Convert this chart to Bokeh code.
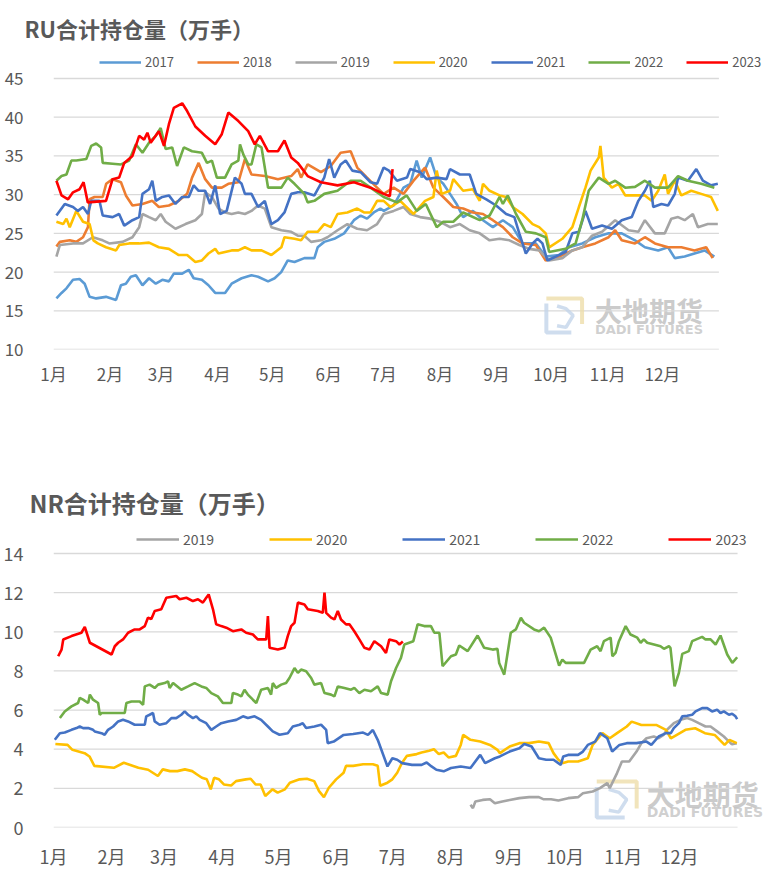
from bokeh.plotting import figure
from bokeh.models import (Range1d, FixedTicker, Legend, LegendItem, Label)
from bokeh.layouts import column
from bokeh.embed import file_html
from bokeh.resources import INLINE

# ---------------- data (day of year, 万手) ----------------
MONTH_STARTS = [0, 31, 59, 90, 120, 151, 181, 212, 243, 273, 304, 334]
MONTH_LABELS = ["1月", "2月", "3月", "4月", "5月", "6月", "7月", "8月", "9月", "10月", "11月", "12月"]

RU_2017 = [(1.6,16.6),(4.4,17.3),(7.1,17.9),(10.7,19.0),(14.3,19.1),(17.1,18.5),(19.8,16.8),(23.4,16.6),(28.8,16.8),(34.3,16.4),(37,18.3),(39.7,18.5),(42.4,19.4),(45.2,19.6),(48.8,18.3),(52.4,19.2),(56.1,18.5),(59.7,19.0),(63.3,18.8),(66,19.8),(70.6,19.8),(74.2,20.3),(76.9,19.2),(81.4,19.0),(85,18.3),(88.7,17.3),(94.1,17.3),(97.7,18.5),(103.2,19.2),(108.6,19.6),(112.2,19.4),(117.7,18.8),(121.3,19.2),(124.9,20.0),(128.5,21.5),(132.2,21.3),(137.6,21.8),(143.1,21.8),(144.9,23.2),(148.5,23.9),(154,24.3),(159.4,25.0),(164.8,26.7),(168.5,27.3),(172,26.9),(175.7,27.7),(179.3,28.2),(181.2,27.9),(186.6,28.6),(192,30.9),(195.7,31.4),(199.2,34.4),(202,32.2),(206.6,34.8),(210.2,32.2),(213.8,31.4),(217.5,30.1),(221.1,28.8),(224.7,27.1),(230.1,27.9),(235.6,26.7),(241,25.8),(246.5,26.7),(251.9,25.8),(257.3,23.7),(264.6,23.7),(270,22.0),(277.3,22.2),(282.8,23.2),(290,23.7),(297.2,24.5),(304.5,25.0),(311.7,25.0),(319,24.1),(324.4,23.2),(331.7,22.8),(337.1,23.2),(340.8,21.8),(346.2,22.0),(351.6,22.4),(357.1,22.8),(362.5,22.0)]
RU_2018 = [(1.6,23.3),(3.5,23.9),(8.9,24.1),(12.5,23.9),(16.2,24.5),(18.9,25.8),(19.8,29.4),(22.5,29.7),(27,29.7),(28.9,31.4),(32.4,32.0),(37,31.6),(39.7,29.9),(43.3,28.6),(48.8,28.8),(54.2,29.2),(57.8,28.4),(63.3,28.6),(68.7,29.2),(73.3,30.1),(76,32.2),(79.6,34.1),(83.2,32.0),(86.9,30.9),(92.3,30.9),(95.9,31.4),(101.4,31.6),(105,34.6),(108.6,32.6),(115.9,32.4),(123.1,32.0),(130.4,32.4),(134,33.3),(135.8,32.2),(139.4,33.9),(146.7,32.9),(152.1,33.7),(157.5,35.4),(163,35.6),(166.6,33.5),(172,32.2),(177.5,30.9),(181.1,30.1),(186.6,30.9),(192,30.1),(197.5,31.8),(203.8,33.5),(208.4,30.9),(213.8,29.7),(219.3,28.4),(224.7,28.2),(230.1,27.7),(235.6,27.5),(241,26.7),(246.5,25.8),(251.9,24.5),(257.3,23.7),(264.6,23.5),(270,21.5),(277.3,22.0),(284.6,22.8),(290,23.2),(297.2,23.7),(304.5,24.5),(308.1,25.4),(311.7,24.1),(319,23.7),(324.4,24.5),(329.9,23.7),(337.1,23.2),(344.4,23.2),(351.6,22.8),(358,23.2),(361.6,21.8)]
RU_2019 = [(1.6,22.0),(3.5,23.5),(10.7,23.7),(16.2,23.7),(21.6,24.5),(27,24.1),(30.6,23.7),(37.9,23.9),(43.3,24.5),(47,25.8),(48.8,27.5),(52.4,27.1),(56.1,26.7),(58.8,27.5),(61.5,26.5),(66.9,25.6),(72.4,26.2),(77.8,26.7),(81.4,27.5),(83.2,30.3),(86.9,29.7),(90.5,28.2),(94.1,27.7),(97.7,27.5),(101.4,27.7),(105,27.5),(108.6,27.9),(112.2,28.6),(115.9,28.2),(119.5,25.8),(125,25.4),(130.4,25.2),(134,24.7),(137.6,24.7),(141.3,23.9),(146.7,24.1),(150.3,24.5),(155.8,25.4),(161.2,26.2),(166.6,25.6),(172,25.4),(177.5,26.2),(181.1,27.5),(186.6,27.9),(192,28.4),(195.7,27.5),(201.1,27.1),(206.6,26.9),(212,26.5),(217.5,25.8),(222.9,26.2),(228.3,25.4),(233.8,25.0),(239.2,24.1),(244.7,24.3),(250.1,24.1),(255.5,23.5),(261,23.0),(266.4,22.8),(271.9,21.5),(279.1,21.8),(284.6,22.8),(290,23.2),(295.4,24.7),(300.9,25.2),(308.1,26.7),(315.4,25.4),(320.8,25.2),(324.4,26.7),(329.9,25.0),(335.3,25.0),(338.9,26.9),(342.6,27.1),(346.2,26.7),(350.7,27.5),(353.5,25.8),(358.9,26.2),(364.4,26.2)]
RU_2020 = [(1.6,26.5),(5.3,26.2),(7.1,26.9),(8.9,25.8),(12.5,27.9),(16.2,26.5),(19.8,26.2),(21.9,24.1),(24.3,23.7),(28.8,23.2),(34.3,22.8),(36.1,23.5),(41.5,23.7),(47,23.7),(52.4,23.8),(57.8,23.2),(63.3,23.0),(68.7,22.2),(73.3,22.2),(77.8,21.3),(81.4,21.5),(85,22.4),(88.7,23.0),(90.5,22.4),(94.1,22.6),(97.7,22.8),(101.4,22.8),(105,23.2),(108.6,22.8),(114.1,22.8),(119.5,22.2),(125,23.2),(126.7,24.5),(132.2,24.3),(135.8,24.1),(139.4,25.2),(144.9,25.2),(148.5,26.2),(152.1,25.8),(155.8,27.5),(161.2,27.7),(166.6,28.2),(170.3,27.7),(173.9,27.7),(177.5,29.2),(181.1,29.2),(184.8,28.4),(190.2,29.2),(197.5,27.5),(203.8,29.2),(208.4,29.7),(210.2,33.1),(212.9,30.1),(217.5,30.5),(219.3,32.0),(224.7,30.5),(230.1,30.7),(233.8,29.2),(235.6,31.4),(239.2,30.5),(244.7,29.9),(248.3,29.7),(251.9,28.4),(257.3,27.5),(262.8,26.2),(266.4,25.8),(270,25.0),(271.9,23.2),(279.1,24.3),(284.6,25.8),(288.2,28.4),(291.8,30.9),(294.6,33.1),(299.1,34.8),(300,36.3),(301.8,32.2),(306.3,30.9),(309.9,31.4),(313.6,29.9),(319,29.9),(324.4,29.9),(328.1,29.2),(331.7,30.5),(335.3,32.6),(337.1,30.1),(340.8,31.8),(344.4,29.9),(349.8,30.5),(355.3,30.1),(360.7,29.7),(364.4,27.9)]
RU_2021 = [(1.6,27.3),(6.2,28.8),(10.7,28.4),(13.4,27.9),(16.2,28.4),(18.9,27.5),(20.7,29.2),(25.2,29.2),(27,27.3),(32.4,27.1),(36,27.5),(38.8,26.0),(43.3,26.7),(47,27.1),(48.8,30.1),(52.4,30.7),(54.2,31.8),(56.1,29.2),(59.7,29.7),(63.3,29.9),(66.9,28.8),(70.6,29.7),(74.2,29.7),(76.9,31.2),(79.6,30.5),(83.2,30.5),(85.9,28.8),(88.7,31.2),(91.4,27.5),(95,27.9),(99.5,32.2),(103.2,31.4),(105,30.1),(108.6,30.1),(112.2,28.4),(115.9,29.2),(119.5,26.2),(123.1,26.7),(126.7,27.7),(130.4,30.1),(134,30.3),(137.6,30.3),(143.1,29.9),(148.5,32.2),(151.2,34.6),(154,32.2),(157.5,33.9),(160.3,34.4),(163.9,33.1),(168.5,32.9),(173.9,31.6),(177.5,31.4),(181.1,33.5),(184,33.1),(188.4,31.8),(193.9,32.2),(195.7,33.3),(201.1,32.9),(204.7,32.0),(210.2,32.2),(215.6,32.0),(217.5,33.3),(222.9,32.6),(228.3,32.6),(231.9,30.1),(237.4,29.4),(242.8,28.6),(248.3,27.5),(252.8,27.1),(255.5,25.0),(259.1,22.4),(262.8,23.7),(265.5,24.3),(268.2,23.7),(270.9,21.5),(275.5,22.0),(280.9,22.6),(284.6,25.0),(288.2,25.2),(291.8,27.9),(295.4,25.6),(300.9,26.0),(306.3,25.6),(311.7,26.7),(317.2,27.1),(320.8,29.2),(324.4,30.5),(327.1,31.8),(329,28.4),(333.5,28.8),(337.1,28.6),(340.8,30.1),(342.6,32.2),(348,31.8),(352.6,33.3),(356.2,31.8),(360.7,31.2),(364.4,31.4)]
RU_2022 = [(1.6,31.8),(4.4,32.4),(7.1,32.6),(9.8,34.4),(12.5,34.4),(18,34.6),(20.7,36.3),(23.4,36.6),(26.1,36.1),(27,34.1),(32.4,34.0),(37,33.9),(41.5,34.4),(45.2,36.5),(48.8,35.4),(52.4,36.7),(56.1,37.6),(58.8,38.6),(61.5,35.9),(65.1,36.1),(67.8,33.7),(71.5,36.1),(76,35.6),(81.4,35.4),(84.2,34.1),(86.9,34.4),(89.6,32.2),(94.1,32.2),(97.7,33.9),(101.4,34.4),(102.3,36.5),(104.1,35.2),(106.8,33.9),(108.6,33.9),(111.3,36.5),(114.1,36.1),(117.7,30.9),(125,30.9),(128.5,32.2),(132.2,31.4),(137.6,30.1),(139.4,29.0),(143.1,29.2),(148.5,30.1),(155.8,30.5),(163,31.8),(168.5,31.8),(173.9,30.9),(181.1,29.7),(188.4,29.0),(193.7,29.9),(199.2,27.9),(204.2,28.8),(210.2,25.8),(213.8,26.5),(219.3,26.5),(224.7,27.7),(228.3,27.3),(233.8,26.7),(239.2,27.3),(244.7,29.7),(246.5,28.8),(249.2,29.9),(253.7,27.5),(259.1,25.2),(264.6,25.0),(270,24.5),(271.9,22.6),(280.9,23.0),(286.4,23.7),(290,26.7),(293.6,30.5),(299.1,32.2),(304.5,31.4),(308.1,31.8),(313.6,30.9),(319,31.0),(324.4,31.8),(329.9,30.9),(337.1,30.9),(342.6,32.4),(348,31.8),(355.3,31.4),(362.5,30.9)]
RU_2023 = [(1.6,31.8),(4.4,29.9),(8,29.4),(10.7,30.3),(14.3,30.7),(16.5,31.6),(18.8,29.0),(28.8,29.2),(32.4,32.0),(36,32.2),(38.8,34.1),(43.3,35.0),(47,37.6),(49.7,37.1),(51.5,38.0),(53.3,36.7),(57.8,38.2),(60.6,36.3),(63.3,39.1),(66,41.2),(70.6,41.8),(73.3,40.8),(77.8,38.8),(83.2,37.6),(88.7,36.5),(92.3,37.8),(95.9,40.6),(101.4,39.5),(106.8,38.2),(110.4,36.5),(113.2,37.6),(117.7,35.6),(123.1,35.6),(126.7,37.0),(130.4,34.8),(134,34.1),(139.4,32.4),(146.7,31.6),(155.8,31.2),(164.8,31.6),(173.9,30.9),(181.1,30.1),(184.5,29.8),(186.0,33.3)]

NR_2019 = [(222.5,1.16),(223.8,0.99),(225.1,1.33),(229.0,1.41),(232.9,1.44),(235.5,1.24),(239.5,1.33),(243.4,1.41),(248.6,1.50),(253.8,1.55),(259.0,1.55),(261.6,1.44),(265.5,1.44),(269.4,1.38),(274.6,1.50),(279.9,1.55),(282.5,1.75),(287.7,1.84),(291.6,2.01),(295.5,2.27),(296.8,2.01),(300.7,2.78),(303.3,3.37),(307.2,3.37),(311.1,3.88),(313.7,4.31),(316.4,4.56),(320.3,4.65),(322.9,4.56),(325.5,4.73),(327.5,5.01),(331.0,5.33),(334.6,5.50),(338.1,5.59),(340.8,5.50),(344.3,5.33),(347.9,5.16),(350.6,5.16),(354.1,4.91),(357.7,4.65),(359.5,4.48),(362.0,4.25),(364.6,4.30)]
NR_2020 = [(1.0,4.27),(7.5,4.22),(10.1,3.97),(16.6,3.80),(19.2,3.63),(21.8,3.15),(32.2,3.05),(37.5,3.31),(45.3,3.05),(50.5,2.95),(55.7,2.63),(58.3,2.97),(62.2,2.88),(66.1,2.88),(70.1,2.97),(74.0,2.88),(76.6,2.71),(79.2,2.54),(81.8,2.46),(83.9,1.95),(85.7,2.54),(88.3,2.46),(90.9,2.20),(94.8,2.15),(97.4,2.37),(102.6,2.46),(105.2,2.49),(107.8,2.20),(110.5,2.20),(113.0,1.61),(116.9,1.95),(119.6,1.78),(123.5,1.95),(126.1,2.29),(131.3,2.46),(135.2,2.49),(139.1,2.37),(141.7,1.86),(144.3,1.55),(146.9,2.03),(150.8,2.46),(154.8,2.80),(156.1,3.15),(159.9,3.15),(165.2,3.23),(170.4,3.23),(173.0,3.15),(174.3,2.13),(178.2,2.29),(180.8,2.46),(183.4,2.80),(186.0,3.31),(188.6,3.66),(193.8,3.75),(196.4,3.83),(200.4,3.92),(203.0,4.00),(205.6,3.75),(208.2,3.83),(210.8,3.58),(214.7,3.66),(217.3,4.22),(218.6,4.73),(222.5,4.48),(227.7,4.39),(232.9,4.22),(236.9,3.97),(238.2,3.80),(243.4,4.14),(248.6,4.31),(253.8,4.31),(259.0,4.39),(264.2,4.31),(266.8,3.80),(269.4,3.46),(272.0,3.29),(274.6,3.37),(279.9,3.37),(285.1,3.54),(287.7,4.22),(292.9,4.82),(296.8,4.56),(300.7,4.82),(305.9,5.16),(308.5,5.41),(313.7,5.24),(321.6,5.24),(326.8,4.99),(329.4,4.56),(337.2,4.99),(342.4,5.07),(347.6,4.82),(352.8,4.73),(358.1,4.22),(360.7,4.48),(364.6,4.31)]
NR_2021 = [(0.7,4.48),(3.4,4.82),(6.0,4.85),(9.6,4.99),(12.3,5.08),(14.0,5.16),(15.8,5.08),(18.5,5.08),(21.1,4.99),(22.0,4.91),(25.6,4.82),(27.3,4.74),(29.1,4.99),(31.8,5.16),(34.5,5.42),(37.1,5.50),(39.8,5.42),(43.3,5.25),(48.7,5.25),(49.5,5.68),(51.3,5.76),(53.1,5.85),(54.0,5.42),(56.6,5.25),(60.2,5.33),(62.9,5.59),(65.5,5.59),(68.2,5.76),(70.0,5.93),(71.8,5.76),(74.4,5.59),(76.2,5.68),(78.0,5.50),(81.5,5.33),(84.2,4.99),(86.8,5.16),(89.5,5.33),(93.1,5.42),(97.5,5.50),(101.1,5.68),(103.7,5.59),(107.3,5.68),(110.8,5.50),(114.4,5.16),(117.0,4.91),(120.6,4.74),(125.0,4.82),(127.7,5.16),(131.3,5.25),(133.0,5.33),(134.8,5.08),(139.2,5.16),(142.8,5.25),(145.5,4.99),(146.3,4.31),(149.5,4.39),(154.8,4.73),(159.9,4.78),(165.2,4.85),(167.8,4.73),(170.4,4.98),(173.0,4.48),(178.2,3.12),(180.8,3.54),(183.4,3.46),(186.0,3.29),(191.3,3.20),(196.4,3.20),(199.1,3.32),(201.7,3.12),(204.3,2.95),(208.2,2.87),(212.1,3.04),(217.3,3.12),(222.5,3.04),(227.7,3.71),(230.3,3.29),(235.5,3.54),(238.2,3.63),(243.4,3.88),(248.6,4.05),(251.2,4.27),(255.1,4.14),(259.0,3.54),(262.9,3.46),(266.8,3.46),(270.7,3.20),(272.0,3.63),(274.6,3.71),(279.9,3.71),(282.5,3.88),(285.1,4.22),(289.0,4.39),(291.6,4.82),(295.5,4.56),(298.1,3.88),(302.0,4.22),(305.9,4.31),(311.1,4.31),(316.4,4.39),(319.0,4.22),(322.9,4.65),(326.8,4.82),(329.4,4.82),(331.0,5.08),(333.7,5.33),(335.5,5.68),(338.1,5.71),(340.8,5.76),(342.6,5.93),(346.1,6.10),(348.8,6.10),(351.4,5.93),(354.1,6.02),(355.9,5.85),(357.7,5.93),(360.4,5.76),(362.1,5.81),(363.9,5.68),(364.8,5.54)]
NR_2022 = [(3.4,5.59),(6.0,5.93),(9.6,6.19),(13.1,6.36),(14.0,6.62),(15.8,6.53),(18.5,6.36),(19.4,6.79),(21.1,6.53),(23.8,6.36),(24.7,5.76),(25.6,5.85),(38.0,5.85),(38.9,6.36),(41.6,6.44),(46.0,6.44),(47.8,6.27),(48.7,7.21),(51.3,7.30),(54.0,7.13),(55.8,7.30),(59.3,7.38),(61.1,7.47),(62.0,7.13),(63.8,7.38),(68.2,7.04),(71.8,7.21),(75.3,7.38),(78.9,7.21),(81.5,7.13),(84.2,6.87),(87.7,6.70),(90.4,6.36),(94.9,6.36),(95.7,6.87),(98.4,6.79),(100.2,6.70),(101.9,7.04),(103.7,6.79),(106.4,6.53),(108.2,6.36),(110.8,7.04),(114.4,7.13),(116.1,6.79),(117.0,7.38),(118.8,7.13),(121.5,7.30),(124.1,7.38),(125.9,7.64),(127.7,7.98),(128.6,8.15),(130.4,7.90),(132.1,8.07),(134.8,7.98),(137.5,7.64),(139.2,7.30),(142.8,7.38),(144.6,6.87),(148.1,6.79),(149.9,6.70),(151.7,7.21),(155.2,7.13),(158.8,7.04),(160.5,7.13),(163.2,6.87),(165.9,7.04),(169.4,6.96),(173.0,7.21),(174.8,6.87),(178.3,6.79),(180.1,7.47),(182.8,8.15),(185.4,8.67),(187.2,9.35),(192.0,9.52),(194.3,10.38),(197.8,10.29),(201.4,10.29),(203.2,9.95),(205.9,9.95),(207.6,8.24),(212.1,8.75),(214.7,8.84),(216.5,9.30),(221.0,9.01),(226.3,9.81),(229.8,9.18),(234.3,9.09),(236.9,9.13),(237.8,8.41),(240.5,7.81),(244.0,9.95),(246.7,10.12),(249.4,10.72),(251.1,10.46),(256.4,10.12),(259.1,10.03),(261.8,10.21),(265.3,9.70),(269.8,8.27),(271.5,8.58),(273.3,8.41),(283.1,8.41),(286.6,9.09),(290.1,9.26),(291.9,9.01),(293.7,9.52),(297.3,9.70),(298.2,8.75),(299.9,8.92),(301.7,9.52),(305.3,10.29),(307.9,9.86),(311.5,9.70),(313.3,9.44),(315.0,9.61),(316.8,9.44),(320.4,9.35),(323.9,9.26),(325.7,9.13),(328.4,9.26),(329.2,9.18),(331.4,7.21),(333.7,7.90),(335.5,8.87),(339.0,9.01),(340.8,9.52),(346.1,9.74),(347.9,9.61),(350.6,9.61),(353.3,9.35),(355.9,9.81),(359.5,8.84),(362.2,8.41),(364.8,8.70)]
NR_2023 = [(2.5,8.75),(4.3,9.09),(5.2,9.61),(9.6,9.78),(14.9,9.95),(16.7,10.25),(19.4,9.44),(31.0,8.84),(32.7,9.26),(34.5,9.44),(37.1,9.61),(39.8,9.95),(43.3,10.12),(46.0,10.12),(48.7,10.29),(50.4,10.72),(52.2,10.65),(54.0,11.06),(57.5,11.15),(60.2,11.74),(65.5,11.83),(67.3,11.66),(70.9,11.74),(74.4,11.57),(77.1,11.66),(79.7,11.49),(81.5,11.74),(82.8,11.91),(85.1,11.15),(86.8,10.38),(89.5,10.29),(92.2,10.21),(95.7,10.03),(100.2,10.12),(102.8,9.95),(106.4,9.86),(109.0,9.61),(113.5,9.61),(114.4,10.80),(115.3,9.18),(119.7,9.09),(123.3,9.18),(125.0,9.78),(126.8,10.29),(128.6,10.46),(130.4,11.49),(133.9,11.40),(135.7,11.15),(141.0,11.06),(143.7,10.97),(144.6,12.0),(145.5,10.97),(148.1,10.72),(149.9,10.63),(151.7,11.06),(153.4,10.63),(156.1,10.38),(157.9,10.38),(160.5,10.03),(163.2,9.61),(165.9,9.18),(168.6,9.09),(171.2,9.52),(174.8,9.26),(177.4,8.92),(179.2,9.61),(182.8,9.52),(184.6,9.35),(186.4,9.50)]

RU_SERIES = [("2017", RU_2017), ("2018", RU_2018), ("2019", RU_2019), ("2020", RU_2020),
             ("2021", RU_2021), ("2022", RU_2022), ("2023", RU_2023)]
NR_SERIES = [("2019", NR_2019), ("2020", NR_2020), ("2021", NR_2021), ("2022", NR_2022), ("2023", NR_2023)]
RU_TICKS = [10, 15, 20, 25, 30, 35, 40, 45]
NR_TICKS = [0, 2, 4, 6, 8, 10, 12, 14]
YEAR_DAYS = 365

COLORS = {"2017": "#5B9BD5", "2018": "#ED7D31", "2019": "#A5A5A5", "2020": "#FFC000",
          "2021": "#4472C4", "2022": "#70AD47", "2023": "#FF0000"}

FONT = "'Noto Sans CJK SC', 'Noto Sans', sans-serif"
TXT = "#595959"


def make_chart(title, series, yticks, y_top, x_end, border, title_size, tick_size, xlab_size,
               xlab_standoff, ylab_standoff, legend_loc, legend_spacing, legend_font,
               glyph_w, title_offset, title_standoff, wm):
    left, right, top, bottom = border
    p = figure(width=767, height=443, x_range=Range1d(0, x_end),
               y_range=Range1d(yticks[0], y_top), output_backend="svg",
               toolbar_location=None, min_border_left=left, min_border_right=right,
               min_border_top=top, min_border_bottom=bottom, title=title)
    p.outline_line_color = None
    p.background_fill_color = "white"
    p.title.text_font = FONT
    p.title.text_font_size = title_size
    p.title.text_font_style = "bold"
    p.title.text_color = TXT
    p.title.align = "left"
    p.title.offset = title_offset
    p.title.standoff = title_standoff

    p.xaxis.ticker = FixedTicker(ticks=MONTH_STARTS)
    p.xaxis.major_label_overrides = {m: lab for m, lab in zip(MONTH_STARTS, MONTH_LABELS)}
    p.yaxis.ticker = FixedTicker(ticks=yticks)
    for ax in (p.xaxis, p.yaxis):
        ax.axis_line_color = None
        ax.major_tick_line_color = None
        ax.minor_tick_line_color = None
        ax.major_label_text_font = FONT
        ax.major_label_text_color = TXT
    p.xaxis.major_label_text_font_size = xlab_size
    p.yaxis.major_label_text_font_size = tick_size
    p.xaxis.major_label_standoff = xlab_standoff
    p.yaxis.major_label_standoff = ylab_standoff
    p.xgrid.grid_line_color = None
    p.ygrid.grid_line_color = None
    # horizontal gridlines at the y ticks, spanning the year only
    p.segment(x0=[0] * len(yticks), x1=[YEAR_DAYS] * len(yticks), y0=yticks, y1=yticks,
              line_color="#D9D9D9", line_width=1.3)

    # watermark (drawn under the data)
    wx, wy1, wy2, fs1, fs2, lx0, lx1, ly0, ly1 = wm
    p.line([lx0, lx1, lx1], [ly1, ly1, ly0 + (ly1 - ly0) * 0.25], line_color="#EEDDAA",
           line_width=4, line_alpha=0.8)
    p.line([lx0, lx0, lx1 - (lx1 - lx0) * 0.3], [ly1 - (ly1 - ly0) * 0.15, ly0, ly0],
           line_color="#C3D4EA", line_width=4, line_alpha=0.8)
    p.line([lx0 + (lx1 - lx0) * 0.3, lx0 + (lx1 - lx0) * 0.55, lx0 + (lx1 - lx0) * 0.75,
            lx0 + (lx1 - lx0) * 0.55, lx0 + (lx1 - lx0) * 0.3],
           [ly1 - (ly1 - ly0) * 0.22, ly1 - (ly1 - ly0) * 0.3, ly0 + (ly1 - ly0) * 0.5,
            ly0 + (ly1 - ly0) * 0.15, ly0 + (ly1 - ly0) * 0.2],
           line_color="#C3D4EA", line_width=3.5, line_alpha=0.8)
    p.add_layout(Label(x=wx, y=wy1, text="大地期货", text_font=FONT, text_font_size=fs1,
                       text_font_style="bold", text_color="#BDBDBD", text_alpha=0.8,
                       text_baseline="middle", text_align="left", level="underlay"))
    p.add_layout(Label(x=wx, y=wy2, text="DADI FUTURES", text_font="DejaVu Sans",
                       text_font_size=fs2, text_font_style="bold", text_color="#C4C4C4",
                       text_alpha=0.8, text_baseline="middle", text_align="left",
                       level="underlay"))

    items = []
    for name, pts in series:
        xs = [d for d, _ in pts]
        ys = [v for _, v in pts]
        r = p.line(xs, ys, line_color=COLORS[name], line_width=2.6)
        items.append(LegendItem(label=name, renderers=[r]))
    lg = Legend(items=items, orientation="horizontal", location=legend_loc,
                glyph_width=glyph_w, glyph_height=14, label_height=14, label_standoff=4,
                spacing=legend_spacing, padding=0, margin=0, border_line_alpha=0,
                background_fill_alpha=0, label_text_font=FONT,
                label_text_font_size=legend_font, label_text_color=TXT)
    p.add_layout(lg)
    return p


# pixel -> data helpers for the watermark placement
def ru_x(px):
    return (px - 47) * 365 / 671


def ru_y(py):
    return 45 - (py - 78) / 7.743


def nr_x(px):
    return (px - 52) * 365 / 685


def nr_y(py):
    return 14 - (py - 553) / 19.57


p1 = make_chart("RU合计持仓量（万手）", RU_SERIES, RU_TICKS, 45 + (78 - 45) / 7.743,
                ru_x(767), (47, 0, 45, 94), "22px", "17px", "17px", 5, 24, (46, 278), 23,
                "13px", 42, -29, 4,
                (ru_x(593), ru_y(310), ru_y(329), "27px", "13px",
                 ru_x(544), ru_x(580), ru_y(332), ru_y(298)))
p2 = make_chart("NR合计持仓量（万手）", NR_SERIES, NR_TICKS, 14 + (553 - 525) / 19.57,
                nr_x(767), (52, 0, 82, 59), "24px", "18px", "18px", 9, 24, (83, 278), 55,
                "14px", 43, -24, 11,
                (nr_x(646), nr_y(793), nr_y(811), "28px", "14px",
                 nr_x(596), nr_x(636), nr_y(817), nr_y(781)))

layout = column(p1, p2, spacing=0)
open("out.html", "w").write(file_html(layout, INLINE))
